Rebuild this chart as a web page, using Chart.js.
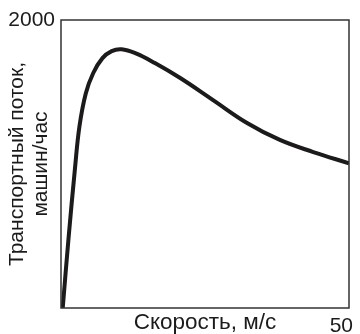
<!DOCTYPE html>
<html>
<head>
<meta charset="utf-8">
<script src="https://cdn.jsdelivr.net/npm/chart.js@4"></script>
<style>
  html, body { margin: 0; padding: 0; background: #fff; overflow: hidden; }
  #wrap { width: 360px; height: 334px; }
  canvas { display: block; }
</style>
</head>
<body>
<div id="wrap"><canvas id="flowChart" width="360" height="334"></canvas></div>
<script>
// Traffic flow vs speed curve: flow rises steeply, peaks near 10 m/s, then decays.
const speedValues = [0.3, 1.3, 2.4, 3.2, 4.3, 5.6, 7.2, 8.8, 10.5, 13, 16.3, 20.7, 26.4, 32.3, 38, 43.8, 50];
const flowValues = [0, 480, 958, 1260, 1490, 1632, 1735, 1784, 1797, 1768, 1701, 1597, 1444, 1285, 1167, 1083, 1005];
const yTickValues = [2000];
const xTickValues = [50];
const xTitle = 'Скорость, м/с';
const yTitle = ['Транспортный поток,', 'машин/час'];

const FONT = 'Liberation Sans, Arial, Helvetica, sans-serif';
const INK = '#1c1a1a';

// thin frame around the plot area
const framePlugin = {
  id: 'frame',
  afterDatasetsDraw: function (chart) {
    const a = chart.chartArea;
    const ctx = chart.ctx;
    ctx.save();
    ctx.strokeStyle = '#333';
    ctx.lineWidth = 1.5;
    ctx.strokeRect(a.left, a.top, a.right - a.left, a.bottom - a.top);
    ctx.restore();
  }
};

const points = speedValues.map(function (s, i) { return { x: s, y: flowValues[i] }; });

new Chart(document.getElementById('flowChart'), {
  type: 'line',
  data: {
    datasets: [{
      data: points,
      borderColor: INK,
      borderWidth: 4,
      pointRadius: 0,
      fill: false,
      tension: 0.4
    }]
  },
  plugins: [framePlugin],
  options: {
    responsive: false,
    animation: false,
    layout: { autoPadding: false, padding: { top: 20, right: 11, bottom: 0, left: 0 } },
    plugins: { legend: { display: false }, tooltip: { enabled: false } },
    scales: {
      x: {
        type: 'linear',
        min: 0,
        max: 50,
        grid: { display: false, drawTicks: false },
        border: { display: false },
        afterBuildTicks: function (scale) { scale.ticks = xTickValues.map(function (v) { return { value: v }; }); },
        afterFit: function (scale) {
          scale.height = 26;
          scale.paddingLeft = 0;
          scale.paddingRight = 0;
        },
        ticks: {
          padding: 6,
          align: 'end',
          labelOffset: 4,
          maxRotation: 0,
          color: INK,
          font: { family: FONT, size: 21 },
          callback: function (v) { return String(v); }
        },
        title: {
          display: true,
          text: xTitle,
          color: INK,
          font: { family: FONT, size: 22.5, lineHeight: 1.15 },
          padding: { top: 0, bottom: -2 }
        }
      },
      y: {
        min: 0,
        max: 2000,
        grid: { display: false, drawTicks: false },
        border: { display: false },
        afterBuildTicks: function (scale) { scale.ticks = yTickValues.map(function (v) { return { value: v }; }); },
        afterFit: function (scale) {
          scale.width = 61;
          scale.paddingTop = 0;
          scale.paddingBottom = 0;
        },
        ticks: {
          padding: 6,
          color: INK,
          font: { family: FONT, size: 21 },
          callback: function (v) { return String(v); }
        },
        title: {
          display: true,
          text: yTitle,
          color: INK,
          font: { family: FONT, size: 21, lineHeight: 1.15 },
          padding: { top: 5, bottom: 0 }
        }
      }
    }
  }
});
</script>
</body>
</html>
